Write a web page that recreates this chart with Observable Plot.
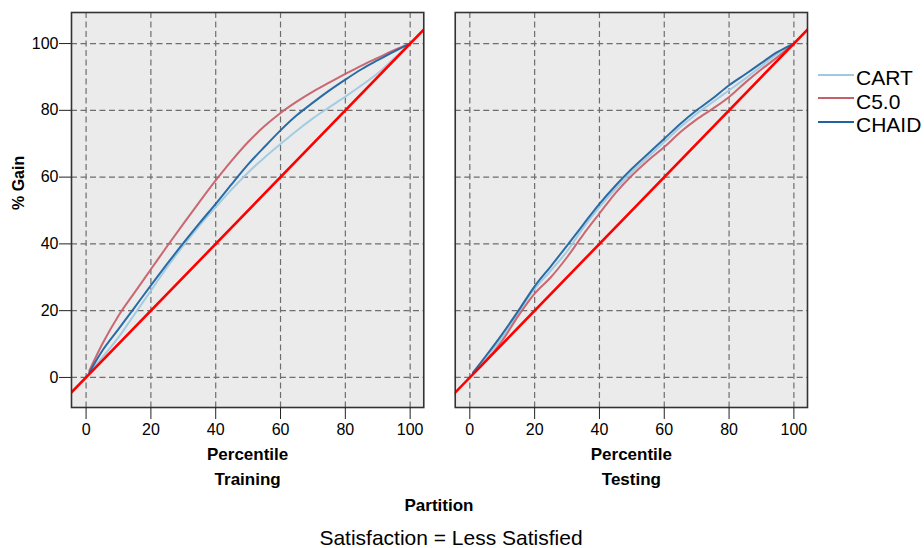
<!DOCTYPE html>
<html>
<head>
<meta charset="utf-8">
<script src="https://cdn.jsdelivr.net/npm/d3@7"></script>
<script src="https://cdn.jsdelivr.net/npm/@observablehq/plot@0.6"></script>
<style>
  html, body { margin: 0; padding: 0; background: #fff; }
  #wrap { position: relative; width: 924px; height: 548px; overflow: hidden; font-family: "Liberation Sans", Arial, sans-serif; }
  .abs { position: absolute; white-space: nowrap; color: #000; }
</style>
</head>
<body>
<div id="wrap"></div>
<script>
// ---- data ----
const partitions = ["Training", "Testing"];
const seriesNames = ["CART", "C5.0", "CHAID"];
const seriesColors = ["#9ecae1", "#c8606a", "#1f64a0"];
const percentiles = [1, 5, 10, 15, 20, 25, 30, 35, 40, 45, 50, 55, 60, 65, 70, 75, 80, 85, 90, 95, 100];

const trainingCART  = [1.2, 6, 12, 19, 26, 33, 39.5, 45.5, 51, 56.4, 61.4, 65.8, 69.9, 73.9, 77.6, 80.9, 84.1, 87.5, 91.1, 95.5, 100];
const trainingC50   = [2, 10, 18.5, 25.5, 32.4, 39.3, 46, 52.6, 59, 65, 70.5, 75.2, 79.2, 82.6, 85.6, 88.3, 90.9, 93.4, 95.7, 98, 100];
const trainingCHAID = [1.5, 8, 14.5, 21, 27.6, 34, 40.2, 46.2, 52, 58, 63.8, 69, 74, 78.5, 82.3, 85.9, 89.2, 92.3, 95, 97.6, 100];

const testingCART  = [1.2, 6, 12, 19.5, 26.5, 32, 37.8, 44.8, 51, 56.5, 61.5, 66, 70.5, 75, 79, 82.5, 86, 89.5, 93.3, 97, 100];
const testingC50   = [1, 5, 11, 18.5, 25.1, 30, 36, 42.8, 49.1, 55.3, 60.5, 65, 69, 73.5, 77.3, 80.5, 84, 88.3, 92.3, 96, 100];
const testingCHAID = [1.5, 6.5, 13, 20, 27.3, 33.3, 39.5, 45.8, 52, 57.5, 62.5, 67, 71.5, 76, 80, 83.6, 87.5, 90.8, 94.2, 97.5, 100];

const xTicks = [0, 20, 40, 60, 80, 100];
const yTicks = [0, 20, 40, 60, 80, 100];
const baselineEnds = [-10, 110]; // random-model diagonal (gain = percentile)

const xLabel = "Percentile";
const yLabel = "% Gain";
const fxLabel = "Partition";
const caption = "Satisfaction = Less Satisfied";

// ---- build table ----
const seriesData = {
  Training: { "CART": trainingCART, "C5.0": trainingC50, "CHAID": trainingCHAID },
  Testing:  { "CART": testingCART,  "C5.0": testingC50,  "CHAID": testingCHAID }
};
const rows = [];
for (const p of partitions) {
  for (const s of seriesNames) {
    seriesData[p][s].forEach((g, i) => rows.push({ partition: p, series: s, pct: percentiles[i], gain: g }));
  }
}
const baseline = baselineEnds.map(v => ({ pct: v, gain: v }));

const chart = Plot.plot({
  width: 924,
  height: 548,
  marginLeft: 71,
  marginRight: 117,
  marginTop: 12,
  marginBottom: 141,
  style: { fontFamily: "'Liberation Sans', Arial, sans-serif", fontSize: "16px", color: "#000", background: "transparent" },
  fx: { domain: partitions, paddingInner: 0.082, paddingOuter: 0, round: false, axis: null, label: null },
  x: { domain: [-4.5, 104.2], label: null },
  y: { domain: [-9, 109.3], label: null },
  color: { domain: seriesNames, range: seriesColors },
  marks: [
    Plot.frame({ fill: "#ebebeb" }),
    Plot.gridX(xTicks, { stroke: "#6e6e6e", strokeOpacity: 1, strokeDasharray: "6,3.5", strokeWidth: 1.2 }),
    Plot.gridY(yTicks, { stroke: "#6e6e6e", strokeOpacity: 1, strokeDasharray: "6,3.5", strokeWidth: 1.2 }),
    Plot.line(rows, { x: "pct", y: "gain", z: "series", stroke: "series", fx: "partition", strokeWidth: 2, curve: "monotone-x", strokeOpacity: 0.95 }),
    Plot.line(baseline, { x: "pct", y: "gain", stroke: "#ff0000", strokeWidth: 2.6, clip: true }),
    Plot.frame({ stroke: "#333", strokeWidth: 1.6 }),
    Plot.axisX(xTicks, { tickSize: 12, tickPadding: 4, label: null, stroke: "#222", fontSize: 16 }),
    Plot.axisY(yTicks, { tickSize: 12, tickPadding: 1, label: null, stroke: "#222", fontSize: 16 }),
    Plot.text(partitions, { fx: d => d, text: () => xLabel, frameAnchor: "bottom", dy: 52, fontWeight: "bold", fontSize: 17 }),
    Plot.text(partitions, { fx: d => d, text: d => d, frameAnchor: "bottom", dy: 77, fontWeight: "bold", fontSize: 17 }),
    Plot.text([partitions[0]], { fx: d => d, text: () => yLabel, frameAnchor: "left", dx: -53, rotate: -90, fontWeight: "bold", fontSize: 16 })
  ]
});

const wrap = document.getElementById("wrap");
wrap.appendChild(chart);

// partition label
const part = document.createElement("div");
part.className = "abs";
part.style.cssText = "left:439px;top:497px;transform:translateX(-50%);font-weight:bold;font-size:17px;line-height:17px;";
part.textContent = fxLabel;
wrap.appendChild(part);

// caption
const cap = document.createElement("div");
cap.className = "abs";
cap.style.cssText = "left:451px;top:527px;transform:translateX(-50%);font-size:21px;line-height:21px;";
cap.textContent = caption;
wrap.appendChild(cap);

// legend
const legendBaselines = [85, 108.5, 132];
seriesNames.forEach((s, i) => {
  const yb = legendBaselines[i];
  const ln = document.createElement("div");
  ln.className = "abs";
  ln.style.cssText = `left:818px;top:${yb - 11.5}px;width:36px;height:2px;background:${seriesColors[i]};`;
  wrap.appendChild(ln);
  const tx = document.createElement("div");
  tx.className = "abs";
  tx.style.cssText = `left:856px;top:${yb - 17.8}px;font-size:21px;line-height:21px;`;
  tx.textContent = s;
  wrap.appendChild(tx);
});
</script>
</body>
</html>
